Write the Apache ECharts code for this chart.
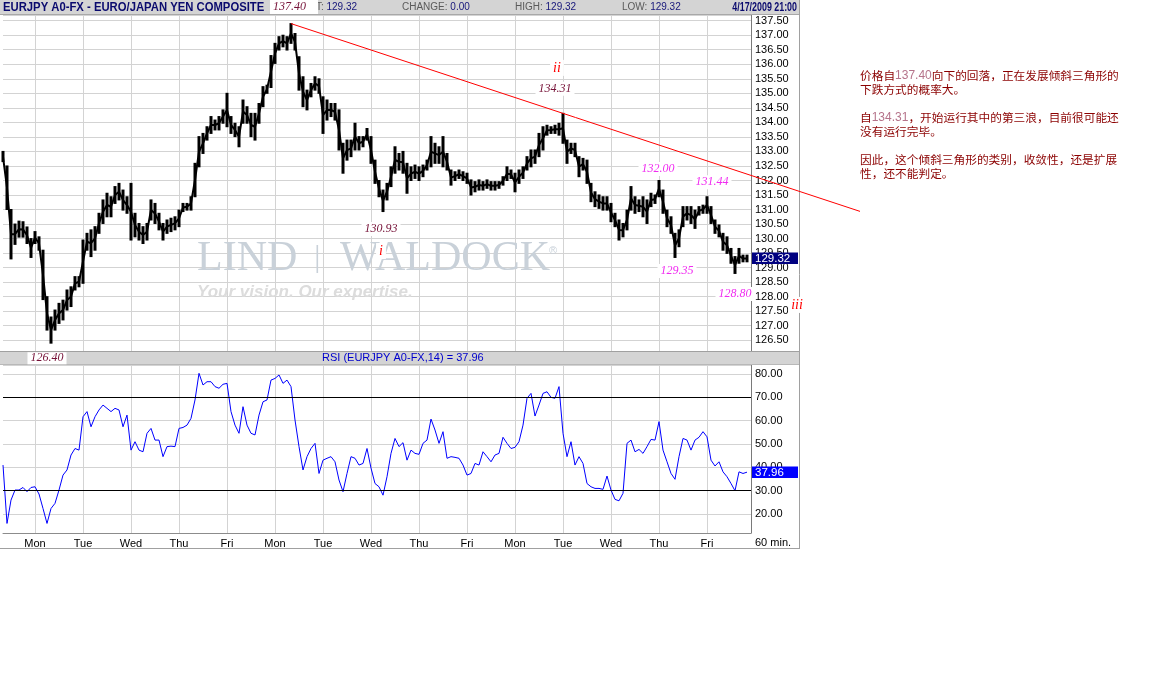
<!DOCTYPE html>
<html><head><meta charset="utf-8">
<script src="https://cdn.jsdelivr.net/npm/echarts@6/dist/echarts.min.js"></script>
<style>html,body{margin:0;padding:0;background:#fff;}#c{width:1165px;height:683px;}</style>
</head><body><div id="c"></div>
<script>
// ---------------- data ----------------
const dayLabels = ['Mon','Tue','Wed','Thu','Fri','Mon','Tue','Wed','Thu','Fri','Mon','Tue','Wed','Thu','Fri'];
const firstHour = -16;   // first 2-hour bar (hours from the first Monday 00:00)
const lastHour = 358;    // right edge of the time axis
const barStep = 2;       // hours per bar

const priceHigh = [
133.00,132.50,131.00,130.50,130.60,130.58,130.40,130.00,130.24,130.06,
129.60,128.00,127.30,127.54,127.77,127.88,128.23,128.34,128.69,128.69,
129.95,130.18,130.30,130.41,130.87,131.33,131.56,131.44,131.79,131.90,
131.67,131.44,131.90,130.87,130.52,130.41,130.52,131.33,131.21,130.87,
130.52,130.64,130.70,130.75,130.98,131.21,131.21,131.44,132.59,133.51,
133.62,133.85,134.20,134.08,134.20,134.43,135.00,134.20,133.97,133.85,
134.77,134.54,134.31,134.31,134.65,135.23,135.28,136.30,136.72,136.95,
137.00,136.95,137.40,137.06,136.26,135.57,135.11,135.34,135.57,135.50,
134.88,134.77,134.65,134.65,134.43,133.28,133.39,133.39,133.97,133.51,
133.51,133.79,133.51,132.70,132.00,131.67,131.90,132.47,133.16,132.93,
133.00,132.59,132.47,132.53,132.47,132.53,132.70,133.51,133.28,133.16,
133.51,132.93,132.36,132.30,132.36,132.30,132.25,132.02,131.96,132.02,
131.96,132.02,131.96,131.96,131.96,132.13,132.47,132.36,132.25,132.36,
132.47,132.82,133.05,133.05,133.62,133.85,133.90,133.85,133.90,133.97,
134.31,133.39,133.28,133.28,132.82,132.76,132.70,131.90,131.61,131.50,
131.44,131.44,131.21,130.87,130.64,130.52,130.98,131.79,131.44,131.33,
131.44,131.33,131.56,131.50,132.00,131.67,130.98,130.75,130.18,130.30,
131.10,131.10,131.10,130.98,131.10,131.15,131.44,131.10,130.64,130.47,
130.18,130.06,129.66,129.38,129.66,129.43,129.43];
const priceLow = [
132.65,131.00,129.30,129.80,130.05,130.05,129.83,129.35,129.83,129.60,
127.90,126.85,126.40,126.85,127.08,127.20,127.54,127.66,128.23,128.34,
128.46,129.60,129.38,129.60,130.18,130.52,130.75,130.75,131.21,131.33,
130.98,130.87,129.95,130.06,129.95,129.83,129.95,130.64,130.52,130.30,
129.95,130.18,130.24,130.30,130.41,130.93,130.98,130.98,131.44,132.47,
132.93,133.39,133.62,133.74,133.74,133.97,133.85,133.62,133.51,133.16,
133.97,133.97,133.51,133.39,133.97,134.54,135.00,135.20,136.03,136.49,
136.60,136.49,136.72,136.49,135.11,134.54,134.43,134.88,135.11,135.00,
133.62,134.08,134.20,134.08,133.05,132.25,132.70,132.82,133.05,133.05,
133.16,133.39,132.59,131.90,131.44,130.93,131.33,131.79,132.25,132.36,
132.25,131.56,132.00,132.07,132.00,132.13,132.36,132.47,132.59,132.59,
132.47,132.36,131.84,132.00,132.07,132.00,131.90,131.50,131.61,131.67,
131.67,131.73,131.67,131.67,131.73,131.84,132.00,132.07,131.61,131.90,
132.07,132.36,132.47,132.59,132.82,133.05,133.56,133.62,133.62,133.56,
133.28,132.59,132.93,132.82,132.13,132.36,131.90,131.27,131.10,131.04,
130.98,130.98,130.58,130.41,129.95,130.06,130.30,130.98,130.87,130.93,
130.75,130.52,131.10,131.21,131.44,130.87,130.41,130.18,129.35,129.72,
130.41,130.64,130.52,130.35,130.81,130.87,130.87,130.52,130.18,130.06,
129.60,129.49,129.15,128.80,129.15,129.20,129.20];
const rsiValues = [
41.0,16.0,26.0,30.3,30.3,31.4,29.6,31.4,31.7,28.6,
22.4,16.0,22.4,24.6,30.3,36.7,38.9,45.3,48.1,47.4,
61.7,63.9,57.4,61.7,64.6,66.7,65.3,63.9,65.3,64.6,
57.4,62.4,47.4,51.0,47.4,46.7,54.6,56.7,51.7,51.7,
44.6,48.9,49.1,48.9,56.7,57.1,58.1,61.0,68.9,80.3,
75.3,76.7,76.7,74.6,73.9,75.6,76.0,63.9,58.1,54.6,
66.0,58.1,54.6,53.9,62.4,68.1,68.9,77.4,78.1,79.6,
76.0,77.4,74.6,60.3,48.9,38.9,44.6,48.1,50.3,37.4,
43.1,43.9,44.6,42.4,34.6,29.6,37.4,44.6,43.9,41.0,
41.7,48.1,39.7,33.1,31.7,28.1,36.0,46.0,52.4,48.9,
50.6,43.1,47.4,46.0,45.6,50.3,51.7,60.7,56.0,50.3,
55.3,43.9,44.6,44.3,43.9,41.0,36.7,37.4,41.7,41.0,
46.7,44.6,42.4,45.3,46.0,52.9,50.3,48.1,48.6,51.0,
58.1,69.6,71.7,62.0,66.7,71.7,72.4,70.0,69.6,74.6,
54.6,44.6,51.0,41.0,44.6,41.7,33.1,31.7,31.0,31.0,
30.6,36.3,30.3,26.3,25.7,28.9,50.3,51.7,46.7,47.7,
46.0,48.9,52.0,51.7,59.6,47.4,42.4,37.4,34.9,44.6,
52.4,51.7,47.4,51.7,52.9,55.3,53.1,43.1,40.6,42.4,
38.1,36.0,33.1,30.0,38.1,37.4,37.96];
const rsiLevels = [70, 30];
const headerQuote = {title:'EURJPY A0-FX - EURO/JAPAN YEN COMPOSITE', last:'129.32', change:'0.00', high:'129.32', low:'129.32', stamp:'4/17/2009 21:00'};
const lastPrice = 129.32;
const lastRsi = 37.96;
const rsiTitle = 'RSI (EURJPY A0-FX,14) = 37.96';
const barPeriod = '60 min.';
const waveLabels = [
  {text:'137.40', hour:128, price:137.40},
  {text:'130.93', hour:174, price:130.93},
  {text:'134.31', hour:264, price:134.31},
  {text:'132.00', hour:312, price:132.00},
  {text:'131.44', hour:336, price:131.44},
  {text:'129.35', hour:320, price:129.35},
  {text:'128.80', hour:350, price:128.80},
  {text:'126.40', hour:8, price:126.40}
];
const waveCounts = [
  {text:'i', hour:174, price:130.93},
  {text:'ii', hour:264, price:134.31},
  {text:'iii', hour:350, price:128.80}
];
const trendAnchors = [{hour:128, price:137.40}, {hour:264, price:134.31}];
const noteLines = [
  ['价格自', '137.40', '向下的回落，正在发展倾斜三角形的'],
  ['下跌方式的概率大。'],
  [''],
  ['自', '134.31', '，开始运行其中的第三浪，目前很可能还'],
  ['没有运行完毕。'],
  [''],
  ['因此，这个倾斜三角形的类别，收敛性，还是扩展'],
  ['性，还不能判定。']
];

// ---------------- build ----------------
const FONT = '"Liberation Sans", Arial, sans-serif';
const SERIF = '"Liberation Serif", "Times New Roman", serif';
const hourCats = [];
for (let h = firstHour; h <= lastHour; h++) hourCats.push(String(h));
const idxOf = h => h - firstHour;
const isDayStart = (i) => { const h = i + firstHour; return h >= 0 && h % 24 === 0 && h / 24 < dayLabels.length; };

const barData = priceHigh.map((hi, k) => [idxOf(firstHour + barStep * k), priceLow[k], hi]);
const midData = priceHigh.map((hi, k) => [idxOf(firstHour + barStep * k), (hi + priceLow[k]) / 2]);
const rsiData = rsiValues.map((v, k) => [idxOf(firstHour + barStep * k), v]);

const chart = echarts.init(document.getElementById('c'), null, {renderer: 'canvas'});
const gridColor = '#d3d3d3';
const option = {
  animation: false,
  backgroundColor: '#ffffff',
  grid: [
    {left: 3, top: 15, width: 748, height: 336},
    {left: 3, top: 365, width: 748, height: 168}
  ],
  xAxis: [
    {type: 'category', gridIndex: 0, data: hourCats, boundaryGap: false,
     axisLine: {show: false}, axisTick: {show: false}, axisLabel: {show: false},
     splitLine: {show: true, interval: (i) => isDayStart(i), lineStyle: {color: gridColor, width: 1}}},
    {type: 'category', gridIndex: 1, data: hourCats, boundaryGap: false,
     axisLine: {show: true, lineStyle: {color: '#8c8c8c'}}, axisTick: {show: false},
     axisLabel: {show: true, interval: (i) => isDayStart(i), formatter: (v) => dayLabels[(+v) / 24] || '',
                 fontSize: 11, color: '#000', fontFamily: FONT, margin: 5},
     splitLine: {show: true, interval: (i) => isDayStart(i), lineStyle: {color: gridColor, width: 1}}}
  ],
  yAxis: [
    {type: 'value', gridIndex: 0, position: 'right', min: 126.13, max: 137.696, splitNumber: 23,
     axisLine: {show: true, lineStyle: {color: '#7a7a7a'}}, axisTick: {show: false},
     axisLabel: {margin: 4, fontSize: 11, color: '#000', fontFamily: FONT, formatter: v => v.toFixed(2),
                 showMinLabel: false, showMaxLabel: false},
     splitLine: {show: true, lineStyle: {color: gridColor}}},
    {type: 'value', gridIndex: 1, position: 'right', min: 11.9, max: 83.86, splitNumber: 7,
     axisLine: {show: true, lineStyle: {color: '#7a7a7a'}}, axisTick: {show: false},
     axisLabel: {margin: 4, fontSize: 11, color: '#000', fontFamily: FONT, formatter: v => v.toFixed(2),
                 showMinLabel: false, showMaxLabel: false},
     splitLine: {show: true, lineStyle: {color: gridColor}}}
  ],
  series: [
    {type: 'custom', xAxisIndex: 0, yAxisIndex: 0, data: barData, z: 3,
     encode: {x: 0, y: [1, 2]},
     renderItem: (params, api) => {
       const x = api.value(0);
       const a = api.coord([x, api.value(1)]);
       const b = api.coord([x, api.value(2)]);
       return {type: 'line', shape: {x1: a[0], y1: a[1] + 0.5, x2: b[0], y2: b[1] - 0.5},
               style: {stroke: '#000', lineWidth: 3}};
     }},
    {type: 'line', xAxisIndex: 0, yAxisIndex: 0, data: midData, showSymbol: false, z: 3,
     lineStyle: {color: '#000', width: 2}},
    {type: 'line', xAxisIndex: 1, yAxisIndex: 1, data: rsiData, showSymbol: false, z: 3,
     lineStyle: {color: '#0000ff', width: 1},
     markLine: {silent: true, symbol: ['none', 'none'], label: {show: false},
                lineStyle: {color: '#000', width: 1, type: 'solid'},
                data: rsiLevels.map(v => ({yAxis: v}))}}
  ]
};
chart.setOption(option);

// ---------------- overlays ----------------
const toPx = (g, h, v) => chart.convertToPixel({gridIndex: g}, [idxOf(h), v]);
const G = [];
// header bar
G.push({type: 'rect', shape: {x: 0, y: 0, width: 800, height: 14}, style: {fill: '#d4d4d4'}, z: 10});
G.push({type: 'line', shape: {x1: 0, y1: 14.5, x2: 800, y2: 14.5}, style: {stroke: '#a8a8a8', lineWidth: 1}, z: 10});
G.push({type: 'text', x: 3, y: 7.5, scaleX: 0.868, z: 11,
  style: {text: headerQuote.title, font: 'bold 13px ' + FONT, fill: '#0a0a6e', verticalAlign: 'middle', align: 'left'}});
const hdr = (x, label, val) => ({type: 'text', x: x, y: 7.5, z: 11,
  style: {text: '{l|' + label + '}{v|' + val + '}', verticalAlign: 'middle', align: 'left',
          rich: {l: {fontSize: 10, fontFamily: FONT, fill: '#5a5a5a'}, v: {fontSize: 10, fontFamily: FONT, fill: '#16167a'}}}});
G.push(hdr(297, 'LAST: ', headerQuote.last));
G.push(hdr(402, 'CHANGE: ', headerQuote.change));
G.push(hdr(515, 'HIGH: ', headerQuote.high));
G.push(hdr(622, 'LOW: ', headerQuote.low));
G.push({type: 'text', x: 797, y: 7.5, scaleX: 0.74, z: 11,
  style: {text: headerQuote.stamp, font: 'bold 12px ' + FONT, fill: '#0a0a6e', verticalAlign: 'middle', align: 'right'}});
// RSI header bar
G.push({type: 'rect', shape: {x: 0, y: 352, width: 800, height: 12}, style: {fill: '#d4d4d4'}, z: 10});
G.push({type: 'line', shape: {x1: 0, y1: 351.5, x2: 800, y2: 351.5}, style: {stroke: '#a0a0a0', lineWidth: 1}, z: 10});
G.push({type: 'line', shape: {x1: 0, y1: 364.5, x2: 800, y2: 364.5}, style: {stroke: '#b8b8b8', lineWidth: 1}, z: 10});
G.push({type: 'text', x: 322, y: 358, z: 11,
  style: {text: rsiTitle, fontSize: 11, fontFamily: FONT, fill: '#0000cc', verticalAlign: 'middle', align: 'left'}});
// outer borders
G.push({type: 'line', shape: {x1: 799.5, y1: 0, x2: 799.5, y2: 549}, style: {stroke: '#a0a0a0', lineWidth: 1}, z: 10});
G.push({type: 'line', shape: {x1: 0, y1: 548.5, x2: 800, y2: 548.5}, style: {stroke: '#a0a0a0', lineWidth: 1}, z: 10});
G.push({type: 'text', x: 755, y: 543, z: 11,
  style: {text: barPeriod, fontSize: 11, fontFamily: FONT, fill: '#000', verticalAlign: 'middle', align: 'left'}});
// watermark
const wm = '#c9d1d9';
G.push({type: 'text', x: 197, y: 259, z: 1, style: {text: 'LIND', fontSize: 42, fontFamily: SERIF, fill: wm, verticalAlign: 'middle', align: 'left'}});
G.push({type: 'rect', shape: {x: 316.5, y: 245, width: 1.6, height: 28}, style: {fill: wm}, z: 1});
G.push({type: 'text', x: 340, y: 259, z: 1, style: {text: 'WALDOCK', fontSize: 42, fontFamily: SERIF, fill: wm, verticalAlign: 'middle', align: 'left'}});
G.push({type: 'text', x: 549, y: 251, z: 1, style: {text: '®', fontSize: 11, fontFamily: FONT, fill: wm, verticalAlign: 'middle', align: 'left'}});
G.push({type: 'text', x: 197, y: 292, z: 1, style: {text: 'Your vision. Our expertise.', font: 'italic bold 17px ' + FONT, fill: '#dcdcdc', verticalAlign: 'middle', align: 'left'}});

// trend line through the two wave tops, extended to the right
const t1 = toPx(0, trendAnchors[0].hour, trendAnchors[0].price);
const t2 = toPx(0, trendAnchors[1].hour, trendAnchors[1].price);
const xEnd = 860;
const slope = (t2[1] - t1[1]) / (t2[0] - t1[0]);
G.push({type: 'line', shape: {x1: t1[0], y1: t1[1], x2: xEnd, y2: t1[1] + slope * (xEnd - t1[0])},
  style: {stroke: '#ff0000', lineWidth: 1}, z: 20});

// wave labels
const darkLbl = '#761238', pinkLbl = '#f02cf0';
const labelLayout = {
  '137.40': {dx: -21, dy: -23.6, color: darkLbl, align: 'left', pad: [1, 12, 1, 3], vAlign: 'top'},
  '130.93': {dx: -2, dy: 17.5, color: darkLbl},
  '134.31': {dx: -8, dy: -24.5, color: darkLbl},
  '132.00': {dx: -1, dy: -11.5, color: pinkLbl},
  '131.44': {dx: 5, dy: -14.5, color: pinkLbl},
  '129.35': {dx: 2, dy: 13.5, color: pinkLbl},
  '128.80': {dx: 0, dy: 20.5, color: pinkLbl},
  '126.40': {dx: -4, dy: 15, color: darkLbl, pad: [0, 3]}
};
waveLabels.forEach(w => {
  const p = toPx(0, w.hour, w.price);
  const L = labelLayout[w.text];
  G.push({type: 'text', x: p[0] + L.dx, y: p[1] + L.dy, z: 30,
    style: {text: w.text, fontSize: 12, fontStyle: 'italic', fontFamily: SERIF, fill: L.color,
            align: L.align || 'center', verticalAlign: L.vAlign || 'middle',
            backgroundColor: '#ffffff', padding: L.pad || [1, 3]}});
});
const countLayout = {'i': {dx: -2, dy: 39.5}, 'ii': {dx: -6, dy: -45.5}, 'iii': {dx: 62, dy: 31.5}};
waveCounts.forEach(w => {
  const p = toPx(0, w.hour, w.price);
  const L = countLayout[w.text];
  G.push({type: 'text', x: p[0] + L.dx, y: p[1] + L.dy, z: 30,
    style: {text: w.text, fontSize: 14, fontStyle: 'italic', fontFamily: SERIF, fill: '#ff0000',
            align: 'center', verticalAlign: 'middle', backgroundColor: '#ffffff', padding: [1, 3]}});
});

// last value boxes
const pp = toPx(0, lastHour, lastPrice);
G.push({type: 'rect', shape: {x: 752, y: Math.round(pp[1]) - 5.5, width: 46, height: 11.5}, style: {fill: '#000080'}, z: 40});
G.push({type: 'text', x: 755, y: pp[1] + 0.5, z: 41, style: {text: lastPrice.toFixed(2), fontSize: 11.5, fontFamily: FONT, fill: '#ffffff', verticalAlign: 'middle', align: 'left'}});
const rp = toPx(1, lastHour, lastRsi);
G.push({type: 'rect', shape: {x: 752, y: Math.round(rp[1]) - 5.5, width: 46, height: 11.5}, style: {fill: '#0000ff'}, z: 40});
G.push({type: 'text', x: 755, y: rp[1] + 0.5, z: 41, style: {text: lastRsi.toFixed(2), fontSize: 11.5, fontFamily: FONT, fill: '#ffffff', verticalAlign: 'middle', align: 'left'}});

// commentary on the right
const CJK = '"Noto Sans CJK SC", sans-serif';
noteLines.forEach((parts, i) => {
  const txt = parts.map((s, j) => (j % 2 === 1) ? '{n|' + s + '}' : (s ? '{t|' + s + '}' : '')).join('');
  if (!txt) return;
  G.push({type: 'text', x: 860, y: 76 + i * 14, z: 11,
    style: {text: txt, verticalAlign: 'middle', align: 'left',
            rich: {t: {fontSize: 11.7, fontFamily: CJK, fill: '#8b0000'}, n: {fontSize: 12, fontFamily: FONT, fill: '#b5738a'}}}});
});

chart.setOption({graphic: {elements: G}});
</script>
</body></html>
